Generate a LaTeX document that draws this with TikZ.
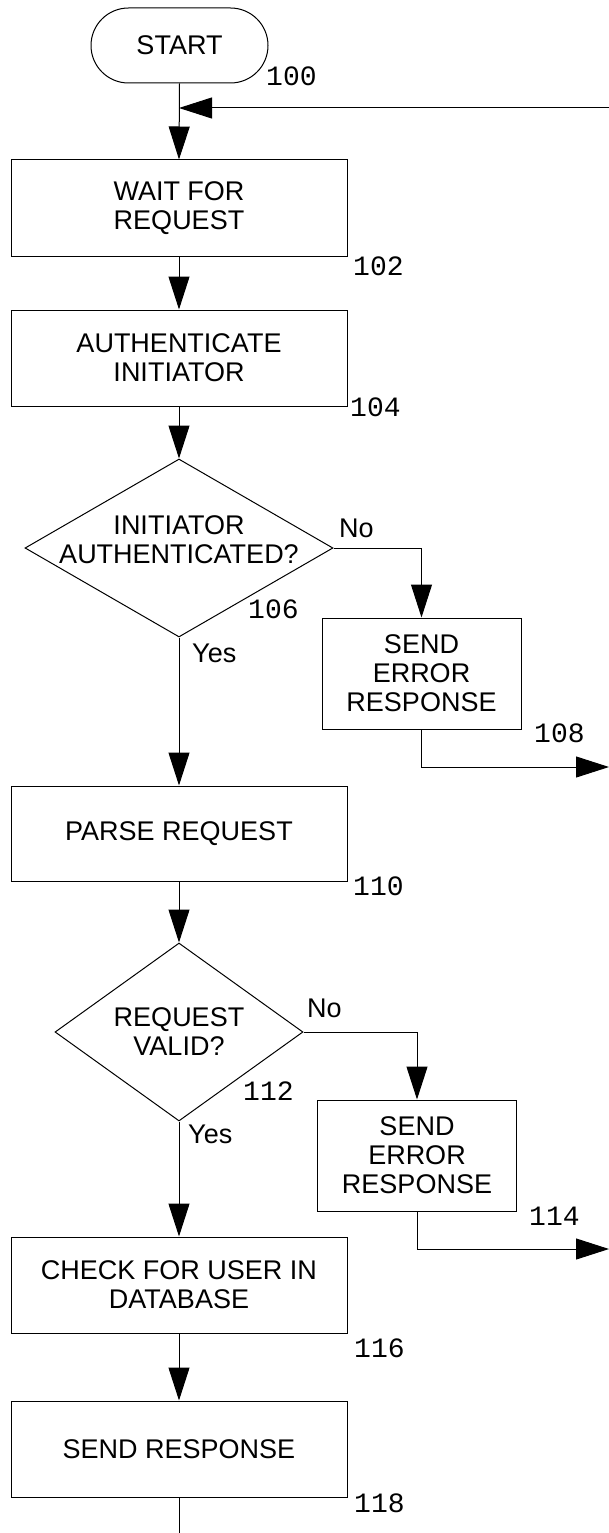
\documentclass[tikz,border=0pt]{standalone}
\usepackage{fontspec}
\setmainfont{Liberation Sans}
\newfontfamily\refmono{Liberation Mono}
\usetikzlibrary{arrows.meta,shapes.geometric,shapes.misc}
\tikzset{
  txt/.style={font=\fontsize{27}{29}\selectfont, align=center},
  boxnode/.style={draw, line width=1pt, rectangle, inner sep=0pt, txt},
  termnode/.style={draw, line width=1pt, rounded rectangle, inner sep=0pt, txt},
  decnode/.style={draw, line width=1pt, diamond, inner sep=0pt},
  refnum/.style={font=\refmono\fontsize{28}{30}\selectfont, anchor=base west, inner sep=0pt},
  branch/.style={font=\fontsize{27}{29}\selectfont, anchor=base west, inner sep=0pt},
  flow/.style={line width=1pt, -{Triangle[length=33pt,width=21pt]}},
  plain/.style={line width=1pt}
}
\begin{document}
\begin{tikzpicture}[x=1pt,y=-1pt]
\useasboundingbox (0,0) rectangle (609,1533);
% nodes
\node[termnode, minimum width=177pt, minimum height=75pt] (start) at (179.5,45.5) {START};
\node[boxnode, minimum width=336pt, minimum height=96pt] (wait) at (179,208) {WAIT FOR\\REQUEST};
\node[boxnode, minimum width=336pt, minimum height=96pt] (auth) at (179,358) {AUTHENTICATE\\INITIATOR};
\node[decnode, minimum width=308pt, minimum height=178pt,
      label={[txt, yshift=8pt]center:INITIATOR\\AUTHENTICATED?}] (d1) at (179,548) {};
\node[boxnode, minimum width=199pt, minimum height=111pt] (e1) at (421.5,673.5) {SEND\\ERROR\\RESPONSE};
\node[boxnode, minimum width=336pt, minimum height=95pt] (parse) at (179,833.5) {PARSE REQUEST};
\node[decnode, minimum width=248pt, minimum height=178pt,
      label={[txt]center:REQUEST\\VALID?}] (d2) at (179,1032) {};
\node[boxnode, minimum width=199pt, minimum height=111pt] (e2) at (417,1155.5) {SEND\\ERROR\\RESPONSE};
\node[boxnode, minimum width=336pt, minimum height=96pt] (check) at (179,1285) {CHECK FOR USER IN\\DATABASE};
\node[boxnode, minimum width=336pt, minimum height=96pt] (send) at (179,1449) {SEND RESPONSE};
% coordinates
\coordinate (loopin) at (609,108);
\coordinate (merge) at (179,108);
\coordinate (out1) at (609,767);
\coordinate (out2) at (609,1249);
\coordinate (endpt) at (179,1533);
% reference numbers
\node[refnum] (r100) at (266,86) {100};
\node[refnum] (r102) at (353,275) {102};
\node[refnum] (r104) at (350,416) {104};
\node[refnum] (r106) at (248,618) {106};
\node[refnum] (r108) at (534,742) {108};
\node[refnum] (r110) at (353,895) {110};
\node[refnum] (r112) at (243,1100) {112};
\node[refnum] (r114) at (529,1225) {114};
\node[refnum] (r116) at (354,1357) {116};
\node[refnum] (r118) at (354,1512) {118};
% branch labels
\node[branch] (no1) at (339,537) {No};
\node[branch] (yes1) at (192,662) {Yes};
\node[branch] (no2) at (307,1017) {No};
\node[branch] (yes2) at (188,1143) {Yes};
% connectors
\draw[flow] (start.south) -- (wait.north);
\draw[flow] (loopin) -- (merge);
\draw[flow] (wait.south) -- (auth.north);
\draw[flow] (auth.south) -- (d1.north);
\draw[flow] (d1.east) -| (e1.north);
\draw[flow] (d1.south) -- (parse.north);
\draw[flow] (e1.south) |- (out1);
\draw[flow] (parse.south) -- (d2.north);
\draw[flow] (d2.east) -| (e2.north);
\draw[flow] (d2.south) -- (check.north);
\draw[flow] (e2.south) |- (out2);
\draw[flow] (check.south) -- (send.north);
\draw[plain] (send.south) -- (endpt);
\end{tikzpicture}
\end{document}
